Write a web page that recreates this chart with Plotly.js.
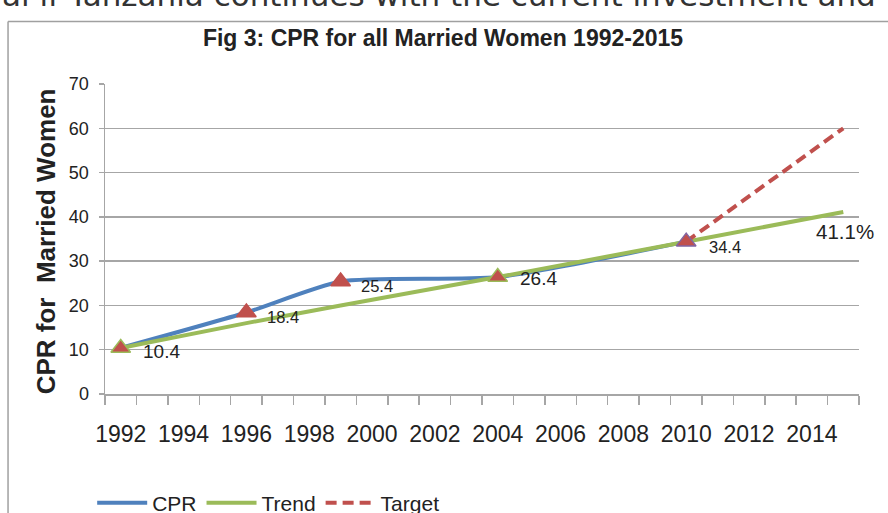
<!DOCTYPE html>
<html>
<head>
<meta charset="utf-8">
<script src="https://cdn.plot.ly/plotly-3.0.1.min.js"></script>
<style>
html,body{margin:0;padding:0;background:#fff;}
#chart{width:888px;height:513px;}
</style>
</head>
<body>
<div id="chart"></div>
<script>
// ---- data ----
const yearLabels = [1992, 1994, 1996, 1998, 2000, 2002, 2004, 2006, 2008, 2010, 2012, 2014];
const cprYears = [1992, 1996, 1999, 2004, 2010];
const cprValues = [10.4, 18.4, 25.4, 26.4, 34.4];
const trendYears = [1992, 1996, 1999, 2004, 2010, 2015];
const trendValues = [10.4, 16.0, 20.0, 26.4, 34.4, 41.1];
const targetYears = [2010, 2015];
const targetValues = [34.4, 60.0];
const pointLabels = ['10.4', '18.4', '25.4', '26.4', '34.4'];
const endLabel = '41.1%';
const titleText = 'Fig 3: CPR for all Married Women 1992-2015';
const yTitleText = 'CPR for  Married Women';
const topText = 'al if Tanzania continues with the current investment and';

// ---- styles ----
const BLUE = '#4F81BD', GREEN = '#9BBB59', RED = '#C0504D', PURPLE = '#8064A2';
const GRID = '#a6a6a6', TXT = '#222222';
const markerEdge = [GREEN, RED, RED, GREEN, PURPLE];
const labelStyle = [
  {size: 19, xs: 20, ys: -4},
  {size: 16.5, xs: 19, ys: -4.5},
  {size: 16.5, xs: 18, ys: -4},
  {size: 19, xs: 20, ys: -1.5},
  {size: 16.5, xs: 21, ys: -5}
];

const traces = [
  {x: cprYears, y: cprValues, name: 'CPR', mode: 'lines',
   line: {color: BLUE, width: 4, shape: 'spline', smoothing: 0.6}, hoverinfo: 'skip'},
  {x: trendYears, y: trendValues, name: 'Trend', mode: 'lines',
   line: {color: GREEN, width: 4, shape: 'spline', smoothing: 0.5}, hoverinfo: 'skip'},
  {x: targetYears, y: targetValues, name: 'Target', mode: 'lines',
   line: {color: RED, width: 4, dash: '11px,6px'}, hoverinfo: 'skip'},
  {x: cprYears, y: cprValues, mode: 'markers', showlegend: false, hoverinfo: 'skip',
   marker: {symbol: 'triangle-up', size: 17, color: RED, line: {color: markerEdge, width: 1.5}}}
];

const annotations = pointLabels.map((t, i) => ({
  x: cprYears[i], y: cprValues[i], xref: 'x', yref: 'y', text: t, showarrow: false,
  xanchor: 'left', yanchor: 'middle', xshift: labelStyle[i].xs, yshift: labelStyle[i].ys,
  font: {family: 'Liberation Sans, Arial, sans-serif', size: labelStyle[i].size, color: TXT}
}));
annotations.push({
  x: trendYears[trendYears.length - 1], y: trendValues[trendValues.length - 1],
  xref: 'x', yref: 'y', text: endLabel, showarrow: false,
  xanchor: 'center', yanchor: 'middle', xshift: 2, yshift: -20,
  font: {family: 'Liberation Sans, Arial, sans-serif', size: 20.5, color: TXT}
});
annotations.push({
  x: -0.0789, y: 0.491, xref: 'paper', yref: 'paper', text: yTitleText, showarrow: false,
  textangle: -90, xanchor: 'center', yanchor: 'middle',
  font: {family: 'Liberation Sans, Arial, sans-serif', size: 26, color: TXT, weight: 'bold'}
});
annotations.push({
  x: -0.139, y: 1.221, xref: 'paper', yref: 'paper', text: topText, showarrow: false,
  xanchor: 'left', yanchor: 'bottom',
  font: {family: 'DejaVu Sans, sans-serif', size: 31, color: '#333'}
});

const layout = {
  width: 888, height: 513,
  margin: {l: 105, r: 29, t: 84, b: 119, autoexpand: false},
  paper_bgcolor: '#ffffff', plot_bgcolor: '#ffffff',
  font: {family: 'Liberation Sans, Arial, sans-serif', color: TXT},
  title: {text: titleText, x: 0.4989, xref: 'container', xanchor: 'center',
          y: 0.926, yref: 'container', yanchor: 'middle',
          font: {family: 'Liberation Sans, Arial, sans-serif', size: 23, color: TXT, weight: 'bold'}},
  xaxis: {
    type: 'linear', range: [1991.5, 2015.5], tickmode: 'array', tickvals: yearLabels,
    ticktext: yearLabels.map(String), ticks: '', showgrid: false, zeroline: false,
    showline: true, linecolor: GRID, linewidth: 1.5, ticklabelstandoff: 19,
    tickfont: {family: 'Liberation Sans, Arial, sans-serif', size: 23, color: TXT},
    minor: {tick0: 1991.5, dtick: 1, ticks: 'outside', ticklen: 9, tickcolor: GRID, tickwidth: 1.5, showgrid: false}
  },
  yaxis: {
    range: [0, 70], tickmode: 'linear', tick0: 0, dtick: 10, ticks: 'outside', ticklen: 5,
    tickcolor: GRID, tickwidth: 1.5, showgrid: true, gridcolor: GRID, gridwidth: 1.5,
    zeroline: false, showline: true, linecolor: GRID, linewidth: 1.5, ticklabelstandoff: 6,
    tickfont: {family: 'Liberation Sans, Arial, sans-serif', size: 18, color: TXT}
  },
  legend: {orientation: 'h', x: -0.017, xanchor: 'left', y: -0.286, yanchor: 'top',
           bgcolor: 'rgba(0,0,0,0)', itemwidth: 50,
           font: {family: 'Liberation Sans, Arial, sans-serif', size: 21, color: TXT}},
  shapes: [
    {type: 'line', xref: 'paper', yref: 'paper', x0: -0.1286, x1: -0.1286, y0: 1.202, y1: -0.42,
     line: {color: '#a0a0a0', width: 1.5}},
    {type: 'line', xref: 'paper', yref: 'paper', x0: -0.1286, x1: 1.05, y0: 1.202, y1: 1.202,
     line: {color: '#a0a0a0', width: 1.5}}
  ],
  annotations: annotations,
  showlegend: true
};

Plotly.newPlot('chart', traces, layout, {staticPlot: true, displayModeBar: false});
</script>
</body>
</html>
